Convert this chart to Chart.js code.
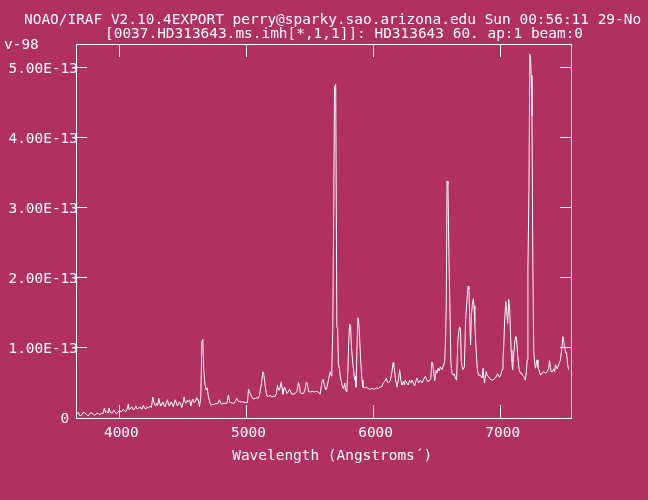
<!DOCTYPE html>
<html>
<head>
<meta charset="utf-8">
<script src="https://cdn.jsdelivr.net/npm/chart.js@4.4.0/dist/chart.umd.min.js"></script>
<style>
  html, body { margin: 0; padding: 0; background: #b03060; }
  #spec { display: block; }
</style>
</head>
<body>
<canvas id="spec" width="648" height="500"></canvas>
<script>
// header text as printed by IRAF (the date wraps onto a third row)
let title_lines = [
  "NOAO/IRAF V2.10.4EXPORT perry@sparky.sao.arizona.edu Sun 00:56:11 29-No",
  "[0037.HD313643.ms.imh[*,1,1]]: HD313643 60. ap:1 beam:0",
  "v-98"
];
let x_title = "Wavelength (Angstroms\u00b4)";
let x_ticks = [4000, 5000, 6000, 7000];
let y_ticks = [0, 1, 2, 3, 4, 5];   // units of 1E-13
let x_range = [3659, 7553];
let y_range = [0, 5.335];

// wavelength (Angstroms)
let wavelength = [
  3663, 3677, 3690, 3704, 3714, 3730, 3742, 3756, 3769, 3783, 3797, 3809, 3822, 3835, 3848, 3861,
  3872, 3882, 3891, 3901, 3911, 3919, 3929, 3940, 3950, 3958, 3970, 3979, 3990, 4005, 4019, 4029,
  4037, 4049, 4058, 4071, 4076, 4084, 4098, 4108, 4116, 4131, 4139, 4150, 4163, 4171, 4179, 4189,
  4198, 4210, 4220, 4228, 4242, 4252, 4263, 4276, 4285, 4294, 4302, 4310, 4320, 4326, 4336, 4342,
  4352, 4360, 4370, 4378, 4386, 4394, 4407, 4417, 4425, 4439, 4449, 4457, 4472, 4482, 4491, 4502,
  4509, 4517, 4525, 4535, 4543, 4553, 4562, 4570, 4578, 4588, 4596, 4609, 4616, 4622, 4630, 4641,
  4649, 4657, 4663, 4670, 4675, 4683, 4691, 4701, 4714, 4724, 4735, 4746, 4761, 4773, 4787, 4797,
  4806, 4824, 4846, 4858, 4868, 4877, 4891, 4903, 4913, 4924, 4935, 4950, 4970, 4990, 5008, 5016,
  5023, 5029, 5042, 5055, 5068, 5082, 5092, 5102, 5116, 5129, 5135, 5142, 5149, 5155, 5163, 5173,
  5187, 5200, 5212, 5226, 5236, 5244, 5252, 5260, 5273, 5281, 5287, 5299, 5309, 5318, 5328, 5339,
  5348, 5357, 5370, 5383, 5397, 5409, 5417, 5423, 5436, 5449, 5460, 5470, 5478, 5488, 5502, 5517,
  5533, 5549, 5567, 5580, 5594, 5604, 5614, 5625, 5635, 5646, 5659, 5667, 5672, 5679, 5685, 5693,
  5702, 5711, 5717, 5723, 5730, 5738, 5746, 5753, 5764, 5773, 5779, 5789, 5798, 5805, 5811, 5819,
  5826, 5835, 5842, 5851, 5856, 5861, 5869, 5876, 5883, 5890, 5897, 5903, 5909, 5916, 5927, 5943,
  5958, 5974, 5990, 6006, 6021, 6037, 6053, 6066, 6076, 6088, 6100, 6108, 6116, 6131, 6145, 6153,
  6159, 6165, 6173, 6185, 6198, 6205, 6214, 6223, 6234, 6242, 6249, 6261, 6273, 6283, 6293, 6302,
  6312, 6323, 6332, 6342, 6354, 6368, 6381, 6391, 6407, 6417, 6426, 6438, 6450, 6458, 6465, 6472,
  6481, 6491, 6499, 6507, 6517, 6525, 6539, 6551, 6559, 6566, 6572, 6578, 6585, 6593, 6600, 6608,
  6617, 6628, 6635, 6643, 6653, 6663, 6669, 6677, 6684, 6690, 6702, 6714, 6724, 6735, 6743, 6750,
  6755, 6763, 6769, 6777, 6784, 6790, 6796, 6808, 6816, 6826, 6840, 6854, 6861, 6872, 6885, 6895,
  6905, 6919, 6932, 6945, 6958, 6976, 6990, 7001, 7011, 7018, 7024, 7031, 7040, 7047, 7055, 7063,
  7071, 7076, 7082, 7088, 7094, 7102, 7110, 7117, 7124, 7134, 7145, 7155, 7163, 7172, 7181, 7188,
  7194, 7202, 7208, 7214, 7222, 7229, 7235, 7240, 7246, 7253, 7260, 7265, 7273, 7281, 7287, 7293,
  7300, 7313, 7325, 7339, 7352, 7365, 7376, 7384, 7391, 7397, 7407, 7417, 7425, 7431, 7444, 7452,
  7460, 7470, 7481, 7489, 7494, 7499, 7510, 7518, 7527, 7534
];
// flux, units of 1E-13
let flux = [
  0.05, 0.08, 0.03, 0.04, 0.08, 0.07, 0.05, 0.03, 0.07, 0.07, 0.05, 0.04, 0.07, 0.06, 0.05, 0.07,
  0.06, 0.14, 0.08, 0.09, 0.07, 0.14, 0.08, 0.07, 0.09, 0.11, 0.07, 0.06, 0.09, 0.10, 0.09, 0.12,
  0.11, 0.09, 0.11, 0.20, 0.12, 0.13, 0.16, 0.12, 0.12, 0.17, 0.13, 0.14, 0.16, 0.13, 0.13, 0.18,
  0.14, 0.13, 0.16, 0.14, 0.17, 0.15, 0.30, 0.19, 0.17, 0.21, 0.18, 0.28, 0.20, 0.17, 0.21, 0.23,
  0.18, 0.16, 0.22, 0.26, 0.20, 0.17, 0.23, 0.20, 0.16, 0.26, 0.21, 0.17, 0.23, 0.20, 0.15, 0.22,
  0.30, 0.23, 0.21, 0.25, 0.23, 0.26, 0.17, 0.23, 0.27, 0.22, 0.23, 0.29, 0.25, 0.26, 0.16, 0.30,
  1.09, 1.12, 0.71, 0.55, 0.47, 0.40, 0.43, 0.30, 0.21, 0.18, 0.20, 0.19, 0.21, 0.20, 0.26, 0.21,
  0.20, 0.21, 0.21, 0.33, 0.23, 0.22, 0.21, 0.21, 0.24, 0.28, 0.24, 0.23, 0.23, 0.22, 0.22, 0.41,
  0.38, 0.35, 0.30, 0.27, 0.28, 0.29, 0.28, 0.32, 0.47, 0.66, 0.64, 0.54, 0.44, 0.36, 0.31, 0.31,
  0.32, 0.30, 0.31, 0.31, 0.35, 0.47, 0.40, 0.40, 0.51, 0.42, 0.34, 0.44, 0.40, 0.35, 0.37, 0.41,
  0.37, 0.34, 0.34, 0.35, 0.38, 0.51, 0.46, 0.36, 0.35, 0.35, 0.40, 0.51, 0.50, 0.38, 0.37, 0.38,
  0.37, 0.38, 0.37, 0.34, 0.52, 0.55, 0.46, 0.40, 0.45, 0.55, 0.66, 0.60, 0.73, 1.26, 2.66, 4.72,
  4.76, 1.30, 1.28, 0.78, 0.71, 0.59, 0.52, 0.46, 0.42, 0.50, 0.40, 0.37, 0.69, 1.10, 1.34, 1.31,
  1.02, 0.80, 0.69, 0.54, 0.60, 0.44, 0.97, 1.43, 1.38, 1.15, 0.87, 0.69, 0.54, 0.44, 0.43, 0.44,
  0.42, 0.41, 0.42, 0.41, 0.43, 0.42, 0.44, 0.45, 0.50, 0.52, 0.57, 0.52, 0.50, 0.53, 0.66, 0.79,
  0.74, 0.69, 0.54, 0.44, 0.59, 0.69, 0.54, 0.47, 0.52, 0.47, 0.54, 0.50, 0.47, 0.54, 0.50, 0.54,
  0.50, 0.46, 0.52, 0.57, 0.50, 0.54, 0.50, 0.54, 0.60, 0.55, 0.52, 0.53, 0.56, 0.80, 0.78, 0.66,
  0.53, 0.68, 0.64, 0.71, 0.67, 0.73, 0.69, 0.76, 0.80, 1.11, 1.64, 3.38, 3.33, 2.30, 1.64, 0.79,
  0.63, 0.61, 0.63, 0.57, 0.54, 1.10, 1.22, 1.30, 1.26, 0.79, 0.69, 0.73, 1.40, 1.69, 1.88, 1.84,
  1.50, 1.04, 1.45, 1.62, 1.70, 1.60, 1.36, 0.93, 0.69, 0.61, 0.61, 0.57, 0.71, 0.50, 0.66, 0.60,
  0.59, 0.55, 0.54, 0.55, 0.57, 0.63, 0.58, 0.62, 0.69, 0.85, 1.02, 1.40, 1.66, 1.52, 1.35, 1.69,
  1.54, 1.25, 0.97, 0.80, 0.69, 0.90, 1.07, 1.16, 1.15, 0.88, 0.69, 0.64, 0.64, 0.61, 0.59, 0.56,
  0.54, 0.66, 0.83, 2.11, 3.23, 5.19, 5.12, 4.89, 4.31, 2.16, 0.95, 0.83, 0.71, 0.78, 0.83, 0.72,
  0.69, 0.61, 0.64, 0.66, 0.64, 0.66, 0.70, 0.82, 0.72, 0.66, 0.66, 0.70, 0.66, 0.76, 0.70, 0.74,
  0.78, 0.83, 1.00, 1.16, 1.10, 1.07, 0.93, 0.93, 0.76, 0.69
];

let fg = "#ffffff";
let mono = { family: "'DejaVu Sans Mono', 'Liberation Mono', monospace", size: 14.45 };

let points = [];
for (let i = 0; i < wavelength.length; i++) {
  points.push({ x: wavelength[i], y: flux[i] });
}

function setTicks(list) {
  return function (scale) {
    scale.ticks = list.map(v => ({ value: v }));
  };
}

// IRAF header lines, drawn above the frame
let header_plugin = {
  id: "iraf_header",
  afterDraw(chart) {
    let c = chart.ctx;
    c.save();
    c.fillStyle = fg;
    c.font = mono.size + "px " + mono.family;
    c.textBaseline = "alphabetic";
    c.textAlign = "left";
    c.fillText(title_lines[0], 24, 23.5);
    c.fillText(title_lines[1], 105, 37.5);
    c.fillText(title_lines[2], 4, 48.5);
    c.restore();
  }
};

let ctx = document.getElementById("spec").getContext("2d");
let chart = new Chart(ctx, {
  type: "scatter",
  data: {
    datasets: [{
      data: points,
      showLine: true,
      borderColor: fg,
      borderWidth: 1,
      pointRadius: 0,
      tension: 0
    }]
  },
  options: {
    responsive: false,
    animation: false,
    devicePixelRatio: 1,
    layout: { padding: 0 },
    plugins: {
      legend: { display: false },
      tooltip: { enabled: false }
    },
    scales: {
      x: {
        type: "linear",
        position: "bottom",
        min: x_range[0],
        max: x_range[1],
        afterBuildTicks: setTicks(x_ticks),
        afterFit: s => { s.height = 82; },
        border: { display: true, color: fg, width: 1 },
        grid: { drawOnChartArea: false, drawTicks: true, tickLength: -13, color: fg, lineWidth: 1 },
        ticks: {
          color: fg, font: mono, padding: 20, labelOffset: 2,
          maxRotation: 0, autoSkip: false,
          callback: v => String(v)
        },
        title: {
          display: true, text: "  " + x_title, color: fg, font: mono,
          padding: { top: 0, bottom: 35 }
        }
      },
      x_top: {
        axis: "x",
        type: "linear",
        position: "top",
        min: x_range[0],
        max: x_range[1],
        afterBuildTicks: setTicks(x_ticks),
        afterFit: s => { s.height = 44; },
        border: { display: true, color: fg, width: 1 },
        grid: { drawOnChartArea: false, drawTicks: true, tickLength: -13, color: fg, lineWidth: 1 },
        ticks: { display: false }
      },
      y: {
        type: "linear",
        position: "left",
        min: y_range[0],
        max: y_range[1],
        afterBuildTicks: setTicks(y_ticks),
        afterFit: s => { s.width = 76; },
        border: { display: true, color: fg, width: 1 },
        grid: { drawOnChartArea: false, drawTicks: true, tickLength: -11, color: fg, lineWidth: 1 },
        ticks: {
          color: fg, font: mono, padding: 9, labelOffset: 1.7, autoSkip: false,
          callback: v => v === 0 ? "0 " : v.toFixed(2) + "E-13"
        }
      },
      y_right: {
        axis: "y",
        type: "linear",
        position: "right",
        min: y_range[0],
        max: y_range[1],
        afterBuildTicks: setTicks(y_ticks),
        afterFit: s => { s.width = 77; },
        border: { display: true, color: fg, width: 1 },
        grid: { drawOnChartArea: false, drawTicks: true, tickLength: -11, color: fg, lineWidth: 1 },
        ticks: { display: false }
      }
    }
  },
  plugins: [header_plugin]
});
</script>
</body>
</html>
